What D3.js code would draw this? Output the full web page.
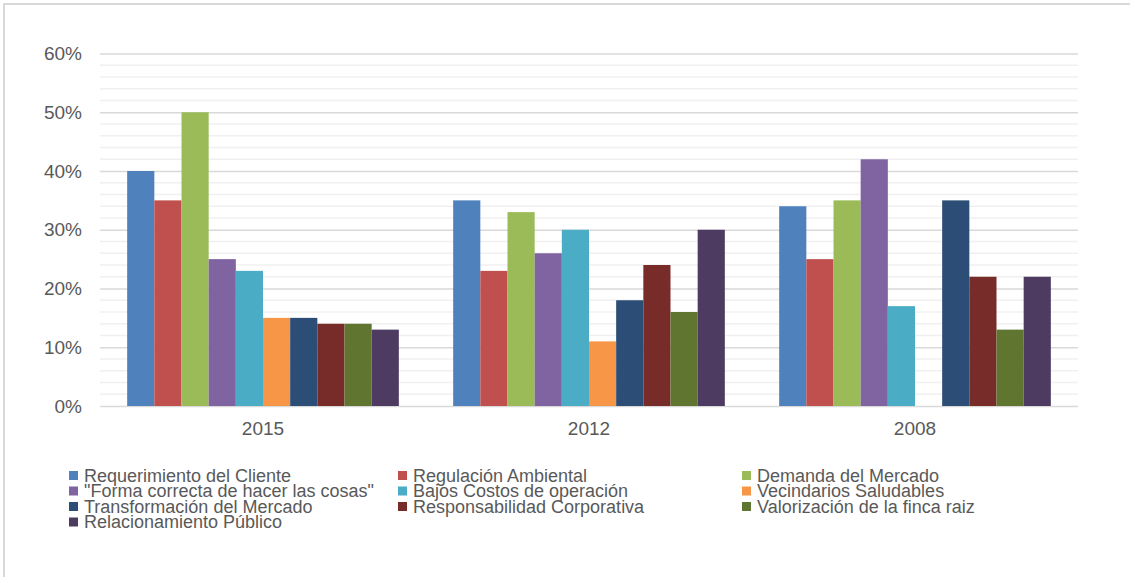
<!DOCTYPE html>
<html>
<head>
<meta charset="utf-8">
<script src="https://cdn.jsdelivr.net/npm/d3@7"></script>
<style>
  body { margin: 0; background: #fff; }
  svg text { font-family: "Liberation Sans", Arial, sans-serif; fill: #595959; }
</style>
</head>
<body>
<div id="chart"></div>
<script>
// Datos del gráfico
const years = ["2015", "2012", "2008"];
const seriesNames = [
    "Requerimiento del Cliente",
    "Regulación Ambiental",
    "Demanda del Mercado",
    "\"Forma correcta de hacer las cosas\"",
    "Bajos Costos de operación",
    "Vecindarios Saludables",
    "Transformación del Mercado",
    "Responsabilidad Corporativa",
    "Valorización de la finca raiz",
    "Relacionamiento Público"
];
// valores por año, en el orden de seriesNames
const values2015 = [0.40, 0.35, 0.50, 0.25, 0.23, 0.15, 0.15, 0.14, 0.14, 0.13];
const values2012 = [0.35, 0.23, 0.33, 0.26, 0.30, 0.11, 0.18, 0.24, 0.16, 0.30];
const values2008 = [0.34, 0.25, 0.35, 0.42, 0.17, 0, 0.35, 0.22, 0.13, 0.22];
const colors = ["#4F81BD", "#C0504D", "#9BBB59", "#8064A2", "#4BACC6",
                "#F79646", "#2C4D75", "#772C2A", "#5F7530", "#4D3B62"];
const yTicks = [0, 0.1, 0.2, 0.3, 0.4, 0.5, 0.6];
const yMinorTicks = d3.range(0, 61, 2).map(d => d / 100);

const valuesByYear = { "2015": values2015, "2012": values2012, "2008": values2008 };

const width = 1130, height = 577;
const plot = { left: 100, right: 1078, top: 53.5, bottom: 406 };

const svg = d3.select("#chart")
    .append("svg")
    .attr("width", width)
    .attr("height", height);

// okvir / marco
svg.append("rect")
    .attr("x", 4).attr("y", 4)
    .attr("width", width + 10).attr("height", height + 10)
    .attr("fill", "none")
    .attr("stroke", "#d9d9d9")
    .attr("stroke-width", 2);

// Escalas
const x0 = d3.scaleBand()
    .domain(years)
    .range([plot.left, plot.right])
    .padding(0);

const x1 = d3.scaleBand()
    .domain(seriesNames)
    .range([0, x0.bandwidth()])
    .paddingInner(0)
    .paddingOuter(1.0);

const y = d3.scaleLinear()
    .domain([0, 0.6])
    .range([plot.bottom, plot.top]);

// Líneas de cuadrícula menores
svg.append("g")
    .selectAll("line")
    .data(yMinorTicks.filter(d => Math.round(d * 100) % 10 !== 0))
    .enter()
    .append("line")
    .attr("x1", plot.left).attr("x2", plot.right)
    .attr("y1", d => y(d)).attr("y2", d => y(d))
    .attr("stroke", "#f0f0f0")
    .attr("stroke-width", 1.5);

// Eje Y con líneas principales
const yAxis = svg.append("g")
    .attr("transform", `translate(${plot.left},0)`)
    .call(d3.axisLeft(y)
        .tickValues(yTicks)
        .tickFormat(d3.format(".0%"))
        .tickSize(-(plot.right - plot.left))
        .tickPadding(18));
yAxis.select(".domain").remove();
yAxis.selectAll(".tick line")
    .attr("stroke", "#d9d9d9")
    .attr("stroke-width", 1.5);
yAxis.selectAll(".tick text")
    .style("font-size", "19px")
    .attr("x", -18);

// Eje X
const xAxis = svg.append("g")
    .attr("transform", `translate(0,${plot.bottom})`)
    .call(d3.axisBottom(x0).tickSize(0).tickPadding(16));
xAxis.select(".domain").remove();
xAxis.selectAll(".tick text")
    .style("font-size", "19px");

// Barras
const groups = svg.append("g")
    .selectAll("g")
    .data(years)
    .enter()
    .append("g")
    .attr("transform", d => `translate(${x0(d)},0)`);

groups.selectAll("rect")
    .data(yr => seriesNames.map((s, i) => ({ s, i, v: valuesByYear[yr][i] })))
    .enter()
    .filter(d => d.v > 0)
    .append("rect")
    .attr("x", d => x1(d.s))
    .attr("y", d => y(d.v))
    .attr("width", x1.bandwidth())
    .attr("height", d => y(0) - y(d.v))
    .attr("fill", d => colors[d.i]);

// Leyenda
const legendCols = [69, 398, 742];
const legendRow0 = 475.5, legendRowStep = 15.5;
const legend = svg.append("g")
    .selectAll("g")
    .data(seriesNames)
    .enter()
    .append("g")
    .attr("transform", (d, i) => `translate(${legendCols[i % 3]},${legendRow0 + Math.floor(i / 3) * legendRowStep})`);

legend.append("rect")
    .attr("x", 0).attr("y", -4.5)
    .attr("width", 9).attr("height", 9)
    .attr("fill", (d, i) => colors[i]);

legend.append("text")
    .attr("x", 15)
    .attr("y", 0)
    .attr("dy", "0.35em")
    .style("font-size", "18px")
    .text(d => d);
</script>
</body>
</html>
